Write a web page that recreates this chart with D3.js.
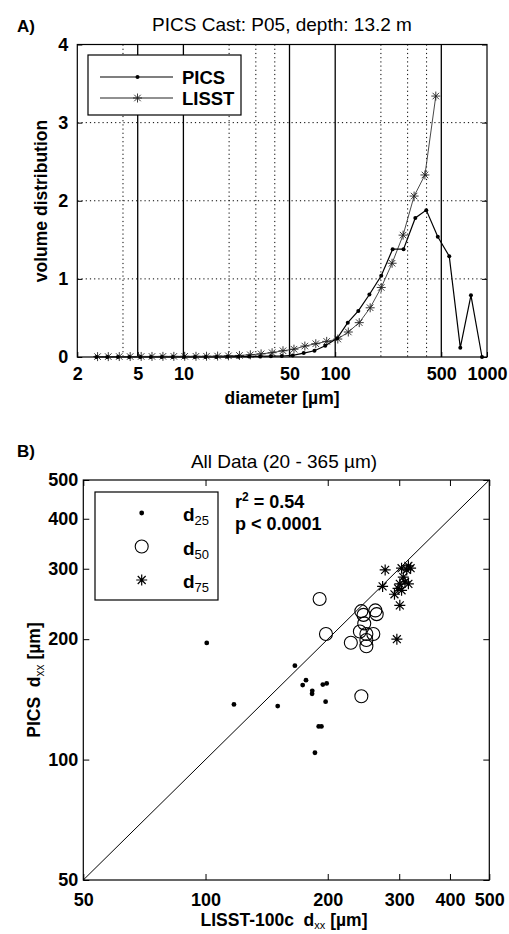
<!DOCTYPE html>
<html><head><meta charset="utf-8">
<script src="https://cdn.jsdelivr.net/npm/d3@7"></script>
<style>
body{margin:0;background:#fff}
svg text{font-family:"Liberation Sans",Arial,Helvetica,sans-serif;fill:#000}
</style>
</head><body>
<script>
// ---------- Panel A data ----------
const lisstDiam = [2.72,3.2,3.78,4.46,5.27,6.21,7.33,8.65,10.2,12.1,14.2,16.8,19.8,23.4,27.6,32.5,38.4,45.3,53.5,63.1,74.5,87.9,104,122,144,170,201,237,280,331,390,460];
const lisstVol  = [0.005,0.005,0.006,0.006,0.007,0.007,0.008,0.008,0.009,0.009,0.01,0.012,0.015,0.02,0.028,0.04,0.055,0.08,0.1,0.14,0.17,0.2,0.23,0.32,0.44,0.63,0.89,1.2,1.56,2.06,2.33,3.34];
const picsDiam  = [2.67,3.15,3.7,4.4,5.2,6.1,7.2,8.5,10.1,11.9,14,16.5,19.5,23,27.1,32,37.7,44.5,52.5,62,73,86,103,121,142,168,201,239,282,337,398,474,564,667,784,927];
const picsVol   = [0,0,0,0,0,0,0,0,0,0,0,0,0.002,0.004,0.006,0.008,0.01,0.013,0.02,0.05,0.08,0.145,0.24,0.44,0.59,0.8,1.04,1.38,1.38,1.78,1.88,1.54,1.29,0.12,0.79,0];
const aXTicks = [2,5,10,50,100,500,1000];
const aYTicks = [0,1,2,3,4];
const aSolidGridX = [5,10,50,100,500];
const aDottedGridX = [4,20,30,40,200,300,400];
const aDottedGridY = [1,2,3];
const aSeries = ["PICS","LISST"];

// ---------- Panel B data ----------
const bTicks = [50,100,200,300,400,500];
const d25X = [100.7,166,176.8,173.5,183.2,183,198.8,194.5,197.6,117.5,150.6,190,193,186];
const d25Y = [195.7,171.7,158,153.6,148.6,146,155,154,139.6,137.4,136.1,121,121,104];
const d50X = [191,198,228,242,242,245,262,264,246,240,259,249,249,249];
const d50Y = [252,206,196,144,235,230,236,231,219,209,206,206,199,192];
const d75X = [277,273,292,301,296,304,316,313,320,307,301,310,316,298,304];
const d75Y = [298,271,259,243,200,301,305,298,301,286,275,278,275,268,265];
const bLegend = ["25","50","75"];

const W = 509, H = 934;
const svg = d3.select("body").append("svg").attr("width", W).attr("height", H);
svg.append("rect").attr("width", W).attr("height", H).attr("fill", "#fff");

function starPath(cx, cy, r) {
  const k = r * 0.72;
  return `M${cx-r},${cy}H${cx+r}M${cx},${cy-r}V${cy+r}M${cx-k},${cy-k}L${cx+k},${cy+k}M${cx-k},${cy+k}L${cx+k},${cy-k}`;
}

// ================= PANEL A =================
const xA = d3.scaleLog().domain([2, 1000]).range([77.3, 487]);
const yA = d3.scaleLinear().domain([0, 4]).range([357, 44.5]);
const gA = svg.append("g");

gA.selectAll("line.dv").data(aDottedGridX).join("line").attr("class","dv")
  .attr("x1", d => xA(d)).attr("x2", d => xA(d)).attr("y1", yA(4)).attr("y2", yA(0))
  .attr("stroke", "#000").attr("stroke-width", 1).attr("stroke-dasharray", "1.2,3");
gA.selectAll("line.dh").data(aDottedGridY).join("line").attr("class","dh")
  .attr("x1", xA(2)).attr("x2", xA(1000)).attr("y1", d => yA(d)).attr("y2", d => yA(d))
  .attr("stroke", "#000").attr("stroke-width", 1).attr("stroke-dasharray", "1.2,3");
gA.selectAll("line.sv").data(aSolidGridX).join("line").attr("class","sv")
  .attr("x1", d => xA(d)).attr("x2", d => xA(d)).attr("y1", yA(4)).attr("y2", yA(0))
  .attr("stroke", "#000").attr("stroke-width", 1.3);

const axA_b = gA.append("g").attr("transform", `translate(0,${yA(0)})`)
  .call(d3.axisBottom(xA).tickValues(aXTicks).tickFormat(d3.format("d")).tickSize(-5).tickPadding(10));
const axA_l = gA.append("g").attr("transform", `translate(${xA(2)},0)`)
  .call(d3.axisLeft(yA).tickValues(aYTicks).tickFormat(d3.format("d")).tickSize(-5).tickPadding(9));
const axA_r = gA.append("g").attr("transform", `translate(${xA(1000)},0)`)
  .call(d3.axisRight(yA).tickValues(aYTicks).tickFormat("").tickSize(-5));
[axA_b, axA_l, axA_r].forEach(a => {
  a.select(".domain").remove();
  a.selectAll("text").style("font-size", "18px").style("font-weight", "bold");
});
gA.append("rect").attr("x", xA(2)).attr("y", yA(4)).attr("width", xA(1000) - xA(2)).attr("height", yA(0) - yA(4))
  .attr("fill", "none").attr("stroke", "#000").attr("stroke-width", 1.2);

const lineA = d3.line().x(d => xA(d[0])).y(d => yA(d[1]));
const lisstPts = d3.zip(lisstDiam, lisstVol);
const picsPts = d3.zip(picsDiam, picsVol);
gA.append("path").datum(lisstPts).attr("d", lineA).attr("fill", "none").attr("stroke", "#333").attr("stroke-width", 0.9);
gA.append("path").datum(picsPts).attr("d", lineA).attr("fill", "none").attr("stroke", "#000").attr("stroke-width", 1.2);
gA.selectAll("path.ls").data(lisstPts).join("path").attr("class","ls")
  .attr("d", d => starPath(xA(d[0]), yA(d[1]), 4.5)).attr("stroke", "#222").attr("stroke-width", 0.9).attr("fill", "none");
gA.selectAll("circle.pc").data(picsPts).join("circle").attr("class","pc")
  .attr("cx", d => xA(d[0])).attr("cy", d => yA(d[1])).attr("r", 2).attr("fill", "#000");

// legend A
const legA = gA.append("g");
legA.append("rect").attr("x", 88).attr("y", 55).attr("width", 153).attr("height", 60)
  .attr("fill", "#fff").attr("stroke", "#000").attr("stroke-width", 1.2);
aSeries.forEach((s, i) => {
  const ly = 77 + i * 21;
  legA.append("line").attr("x1", 100).attr("x2", 173).attr("y1", ly).attr("y2", ly)
    .attr("stroke", i === 0 ? "#000" : "#222").attr("stroke-width", i === 0 ? 1.2 : 1);
  if (i === 0) legA.append("circle").attr("cx", 137.5).attr("cy", ly).attr("r", 2).attr("fill", "#000");
  else legA.append("path").attr("d", starPath(137.5, ly, 4.5)).attr("stroke", "#222").attr("stroke-width", 0.9);
  legA.append("text").attr("x", 182).attr("y", ly + 6.5).text(s)
    .style("font-size", "18.5px").style("font-weight", "bold");
});

svg.append("text").attr("x", 282).attr("y", 31).attr("text-anchor", "middle")
  .style("font-size", "19px").text("PICS Cast: P05, depth: 13.2 m");
svg.append("text").attr("x", 17).attr("y", 32).style("font-size", "17px").style("font-weight", "bold").text("A)");
svg.append("text").attr("transform", "translate(47,201) rotate(-90)").attr("text-anchor", "middle")
  .style("font-size", "17.5px").style("font-weight", "bold").text("volume distribution");
svg.append("text").attr("x", 282).attr("y", 404).attr("text-anchor", "middle")
  .style("font-size", "17.5px").style("font-weight", "bold").text("diameter [µm]");

// ================= PANEL B =================
const xB = d3.scaleLog().domain([50, 500]).range([83.3, 489.3]);
const yB = d3.scaleLog().domain([50, 500]).range([880, 480]);
const gB = svg.append("g");

const tB = d3.format("d");
const axB_b = gB.append("g").attr("transform", `translate(0,${yB(50)})`)
  .call(d3.axisBottom(xB).tickValues(bTicks).tickFormat(tB).tickSize(-6).tickPadding(13));
const axB_t = gB.append("g").attr("transform", `translate(0,${yB(500)})`)
  .call(d3.axisTop(xB).tickValues(bTicks).tickFormat("").tickSize(-6));
const axB_l = gB.append("g").attr("transform", `translate(${xB(50)},0)`)
  .call(d3.axisLeft(yB).tickValues(bTicks).tickFormat(tB).tickSize(-6).tickPadding(5));
const axB_r = gB.append("g").attr("transform", `translate(${xB(500)},0)`)
  .call(d3.axisRight(yB).tickValues(bTicks).tickFormat("").tickSize(-6));
[axB_b, axB_t, axB_l, axB_r].forEach(a => {
  a.select(".domain").remove();
  a.selectAll("text").style("font-size", "18px").style("font-weight", "bold");
});
gB.append("rect").attr("x", xB(50)).attr("y", yB(500)).attr("width", xB(500) - xB(50)).attr("height", yB(50) - yB(500))
  .attr("fill", "none").attr("stroke", "#000").attr("stroke-width", 1.2);

// 1:1 line
gB.append("line").attr("x1", xB(50)).attr("y1", yB(50)).attr("x2", xB(500)).attr("y2", yB(500))
  .attr("stroke", "#000").attr("stroke-width", 1);

const d25 = d3.zip(d25X, d25Y), d50 = d3.zip(d50X, d50Y), d75 = d3.zip(d75X, d75Y);
gB.selectAll("circle.d25").data(d25).join("circle").attr("class","d25")
  .attr("cx", d => xB(d[0])).attr("cy", d => yB(d[1])).attr("r", 2.4).attr("fill", "#000");
gB.selectAll("circle.d50").data(d50).join("circle").attr("class","d50")
  .attr("cx", d => xB(d[0])).attr("cy", d => yB(d[1])).attr("r", 6.5)
  .attr("fill", "none").attr("stroke", "#000").attr("stroke-width", 1.1);
gB.selectAll("path.d75").data(d75).join("path").attr("class","d75")
  .attr("d", d => starPath(xB(d[0]), yB(d[1]), 5.5)).attr("stroke", "#000").attr("stroke-width", 1.2).attr("fill", "none");

// legend B
const legB = gB.append("g");
legB.append("rect").attr("x", 95).attr("y", 492).attr("width", 123).attr("height", 108)
  .attr("fill", "#fff").attr("stroke", "#000").attr("stroke-width", 1.2);
bLegend.forEach((s, i) => {
  const ly = 513 + i * 33.5;
  if (i === 0) legB.append("circle").attr("cx", 141.7).attr("cy", ly).attr("r", 2.4).attr("fill", "#000");
  else if (i === 1) legB.append("circle").attr("cx", 141.7).attr("cy", ly).attr("r", 6.5).attr("fill", "none").attr("stroke", "#000").attr("stroke-width", 1.1);
  else legB.append("path").attr("d", starPath(141.7, ly, 5.5)).attr("stroke", "#000").attr("stroke-width", 1.2);
  const t = legB.append("text").attr("x", 183).attr("y", ly + 8);
  t.append("tspan").style("font-size", "19px").style("font-weight", "bold").text("d");
  t.append("tspan").attr("dy", 4).style("font-size", "13px").text(s);
});

const r2 = svg.append("text").attr("x", 235).attr("y", 508).style("font-size", "18px").style("font-weight", "bold");
r2.append("tspan").text("r");
r2.append("tspan").attr("dy", -7).style("font-size", "12px").text("2");
r2.append("tspan").attr("dy", 7).text(" = 0.54");
svg.append("text").attr("x", 235).attr("y", 530).style("font-size", "18px").style("font-weight", "bold").text("p < 0.0001");

svg.append("text").attr("x", 284).attr("y", 468).attr("text-anchor", "middle")
  .style("font-size", "19px").text("All Data (20 - 365 µm)");
svg.append("text").attr("x", 17).attr("y", 457).style("font-size", "17px").style("font-weight", "bold").text("B)");

const yl = svg.append("text").attr("transform", "translate(40,680) rotate(-90)").attr("text-anchor", "middle")
  .style("font-size", "17.5px").style("font-weight", "bold").style("white-space", "pre");
yl.append("tspan").text("PICS  d");
yl.append("tspan").attr("dy", 4).style("font-size", "12px").style("font-weight", "normal").text("xx");
yl.append("tspan").attr("dy", -4).text(" [µm]");

const xl = svg.append("text").attr("x", 284).attr("y", 926).attr("text-anchor", "middle")
  .style("font-size", "17.5px").style("font-weight", "bold").style("white-space", "pre");
xl.append("tspan").text("LISST-100c  d");
xl.append("tspan").attr("dy", 3).style("font-size", "11px").style("font-weight", "normal").text("xx");
xl.append("tspan").attr("dy", -3).text(" [µm]");
</script>
</body></html>
